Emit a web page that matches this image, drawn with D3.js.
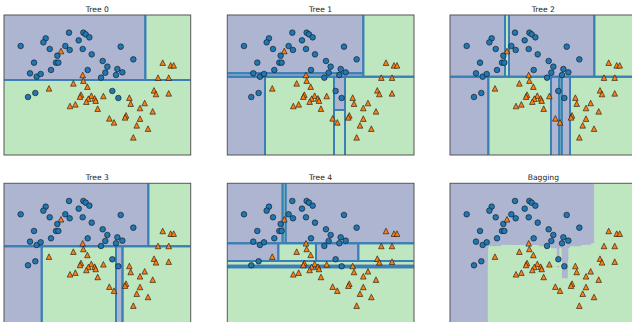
<!DOCTYPE html>
<html>
<head>
<meta charset="utf-8">
<script src="https://cdn.jsdelivr.net/npm/d3@7"></script>
<style>
  html, body { margin: 0; padding: 0; background: #fff; }
  svg { display: block; }
</style>
</head>
<body>
<svg id="chart" width="632" height="322"></svg>
<script>
// Training points of class 0 (circles): feature 0 and feature 1
const class0X = [-1.143, -0.607, -0.657, -0.521, -0.107, 0.200, 0.250, 0.329, 0.100, -0.186,
                 -0.093, 0.186, -0.357, 0.379, 1.000, 1.271, -0.857, -0.386, -0.336, 0.614,
                 0.714, 0.293, -0.493, -0.943, -0.800, -0.714, 0.671, 0.929, 1.036, 0.900,
                 0.579, -0.986, -0.829, 0.821, 0.950];
const class0Y = [0.880, 1.033, 0.953, 0.820, 1.147, 1.147, 1.113, 1.053, 0.993, 0.880,
                 0.800, 0.820, 0.687, 0.713, 0.867, 0.613, 0.547, 0.547, 0.547, 0.580,
                 0.467, 0.400, 0.400, 0.333, 0.267, 0.320, 0.347, 0.420, 0.353, 0.300,
                 0.247, -0.140, -0.060, -0.020, -0.160];

// Training points of class 1 (triangles)
const class1X = [-0.279, 1.900, 2.071, 2.136, 1.800, 2.029, 0.186, 0.200, -0.014, -0.536,
                 0.286, 1.714, 1.757, 2.029, 0.150, 0.129, 0.371, 0.307, 0.443, 0.464,
                 0.264, 0.629, 1.186, 1.214, 1.514, 1.414, 1.686, -0.086, 0.029, 0.507,
                 0.757, 0.857, 1.114, 1.093, 1.414, 1.343, 1.586, 1.271];
const class1Y = [0.780, 0.547, 0.493, 0.493, 0.247, 0.247, 0.300, 0.187, 0.133, 0.033,
                 0.067, -0.007, -0.080, -0.067, -0.093, -0.133, -0.113, -0.173, -0.167, -0.213,
                 -0.233, -0.120, -0.153, -0.273, -0.260, -0.360, -0.427, -0.320, -0.287, -0.373,
                 -0.567, -0.647, -0.507, -0.547, -0.573, -0.707, -0.773, -0.947];

// Fitted trees: [feature, threshold, branch if <= threshold, branch if > threshold]; a number is a leaf's class
const tree0 = [1, 0.2, 1, [0, 1.528, 0, 1]];
const tree1 = [1, 0.265,
  [0, -0.692, 0, [0, 0.786, 1, [0, 1.022, [1, -0.4, 1, 0], 1]]],
  [0, 1.414, [1, 0.334, 0, 0], 1]];
const tree2 = [1, 0.266,
  [0, -0.679, 0, [0, 0.664, 1, [0, 0.842, 0, [0, 0.894, 1, [0, 1.071, 0, 1]]]]],
  [0, 1.592, [0, -0.321, 0, [0, -0.236, 1, 0]], 1]];
const tree3 = [1, 0.24,
  [0, -0.692, 0, [0, 0.9, 1, [0, 1.039, 0, 1]]],
  [0, 1.592, 0, 1]];
const tree4 = [1, 0.3,
  [1, -0.054, [1, -0.146, [1, -0.18, 1, 0], 1], [0, -0.407, 0, [0, 0.401, 1, [0, 1.307, 0, 1]]]],
  [0, -0.315, 0, [0, -0.251, 1, 0]]];

const panelTitles = ["Tree 0", "Tree 1", "Tree 2", "Tree 3", "Tree 4", "Bagging"];
const xDomain = [-1.5, 2.5];
const yDomain = [-1.3, 1.5];

const trees = [tree0, tree1, tree2, tree3, tree4];

// Layout
const W = 186.7, H = 140;
const colX = [4, 227.3, 450];
const rowY = [15, 183.3];
const regionColor = ["#adb5d1", "#bfe7bf"];
const borderColor = "#3a7fb6";
const markerColor = ["#1f77b4", "#ff7f0e"];

const x = d3.scaleLinear().domain(xDomain).range([0, W]);
const y = d3.scaleLinear().domain(yDomain).range([H, 0]);

function predict(node, p) {
  while (Array.isArray(node)) {
    node = p[node[0]] <= node[1] ? node[2] : node[3];
  }
  return node;
}

function collectLeaves(node, box, out) {
  if (!Array.isArray(node)) { out.push({box, cls: node}); return out; }
  const [f, t, lo, hi] = node;
  const a = box.slice(), b = box.slice();
  // box = [xmin, xmax, ymin, ymax]
  a[f * 2 + 1] = t;
  b[f * 2] = t;
  collectLeaves(lo, a, out);
  collectLeaves(hi, b, out);
  return out;
}

const svg = d3.select("#chart");
const defs = svg.append("defs");

const panels = panelTitles.map((title, i) => {
  const g = svg.append("g")
    .attr("transform", `translate(${colX[i % 3]},${rowY[Math.floor(i / 3)]})`);
  defs.append("clipPath").attr("id", "clip" + i)
    .append("rect").attr("width", W).attr("height", H);
  g.append("text")
    .attr("x", W / 2).attr("y", -3.5)
    .attr("text-anchor", "middle")
    .attr("font-family", "DejaVu Sans, sans-serif")
    .attr("font-size", 7.6)
    .attr("fill", "#222")
    .text(title);
  return g;
});

// Tree partitions
trees.forEach((tree, i) => {
  const g = panels[i];
  const leaves = collectLeaves(tree, [xDomain[0], xDomain[1], yDomain[0], yDomain[1]], []);
  const body = g.append("g").attr("clip-path", `url(#clip${i})`);
  body.selectAll("rect.leaf").data(leaves).join("rect")
    .attr("class", "leaf")
    .attr("x", d => x(d.box[0]))
    .attr("y", d => y(d.box[3]))
    .attr("width", d => x(d.box[1]) - x(d.box[0]))
    .attr("height", d => y(d.box[2]) - y(d.box[3]))
    .attr("fill", d => regionColor[d.cls]);

  // leaf borders, skipping the outer edges of the plot area
  const segs = [];
  leaves.forEach(({box}) => {
    const [x0, x1, y0, y1] = box;
    if (x0 > xDomain[0]) segs.push([x0, y0, x0, y1]);
    if (x1 < xDomain[1]) segs.push([x1, y0, x1, y1]);
    if (y0 > yDomain[0]) segs.push([x0, y0, x1, y0]);
    if (y1 < yDomain[1]) segs.push([x0, y1, x1, y1]);
  });
  body.selectAll("line.border").data(segs).join("line")
    .attr("class", "border")
    .attr("x1", d => x(d[0])).attr("y1", d => y(d[1]))
    .attr("x2", d => x(d[2])).attr("y2", d => y(d[3]))
    .attr("stroke", borderColor)
    .attr("stroke-width", 1.9);
});

// Bagged ensemble: majority vote of the trees on a fine grid
{
  const g = panels[5];
  const nx = 374, ny = 280;
  const votes = new Float64Array(nx * ny);
  for (let j = 0; j < ny; j++) {
    const yv = y.invert((j + 0.5) * H / ny);
    for (let i = 0; i < nx; i++) {
      const xv = x.invert((i + 0.5) * W / nx);
      let c = 0;
      for (const t of trees) if (predict(t, [xv, yv]) === 0) c++;
      votes[j * nx + i] = c;
    }
  }
  const body = g.append("g").attr("clip-path", "url(#clip5)");
  body.append("rect").attr("width", W).attr("height", H).attr("fill", regionColor[1]);
  const contours = d3.contours().size([nx, ny]).thresholds([trees.length / 2])(votes);
  const sx = W / nx, sy = H / ny;
  const path = d3.geoPath(d3.geoTransform({
    point(px, py) { this.stream.point(px * sx, py * sy); }
  }));
  body.selectAll("path.region").data(contours).join("path")
    .attr("class", "region")
    .attr("d", path)
    .attr("fill", regionColor[0]);
}

// Training points and frames on every panel
const pts0 = class0X.map((v, k) => [v, class0Y[k]]);
const pts1 = class1X.map((v, k) => [v, class1Y[k]]);
const r = 2.8;
panels.forEach((g, i) => {
  g.append("g").selectAll("circle").data(pts0).join("circle")
    .attr("cx", d => x(d[0])).attr("cy", d => y(d[1]))
    .attr("r", r)
    .attr("fill", markerColor[0])
    .attr("stroke", "#111").attr("stroke-width", 0.6);
  g.append("g").selectAll("path").data(pts1).join("path")
    .attr("d", d => {
      const cx = x(d[0]), cy = y(d[1]);
      return `M${cx},${cy - r}L${cx - r},${cy + r}L${cx + r},${cy + r}Z`;
    })
    .attr("fill", markerColor[1])
    .attr("stroke", "#111").attr("stroke-width", 0.6);
  g.append("rect")
    .attr("width", W).attr("height", H)
    .attr("fill", "none")
    .attr("stroke", "#555").attr("stroke-width", 1);
});
</script>
</body>
</html>
